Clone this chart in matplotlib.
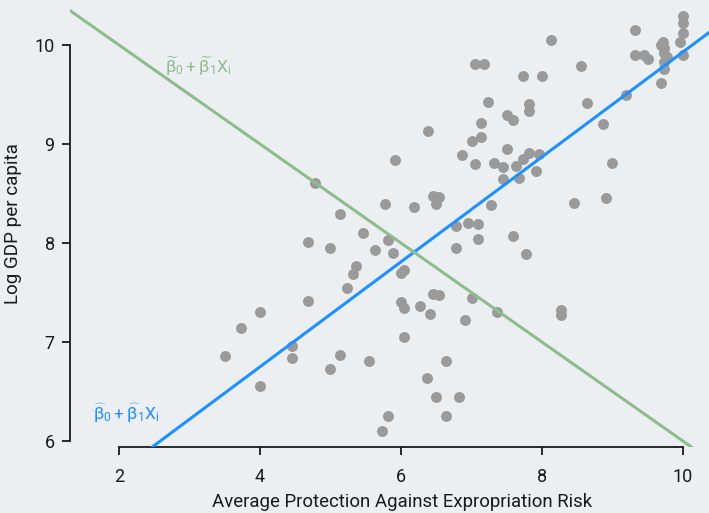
import matplotlib
matplotlib.use("Agg")
import matplotlib.pyplot as plt

# protection against expropriation risk vs log GDP per capita
avexpr = [3.50, 3.73, 4.00, 4.00, 4.45, 4.45, 4.68, 4.68, 4.78, 4.99,
          4.99, 5.13, 5.13, 5.23, 5.32, 5.36, 5.46, 5.55, 5.63, 5.77,
          5.82, 5.89, 5.91, 6.18, 6.38, 6.45, 6.54, 6.50, 6.04, 6.00,
          6.45, 6.54, 6.00, 6.04, 6.27, 6.41, 6.04, 6.64, 6.37, 6.50,
          5.82, 5.73, 6.64, 6.82, 6.91, 7.01, 7.36, 6.78, 6.95, 7.09,
          7.09, 6.78, 7.59, 7.77, 8.27, 8.27, 6.87, 7.05, 7.32, 7.45,
          7.63, 7.73, 7.82, 7.96, 7.45, 7.67, 7.91, 7.50, 7.13, 7.23,
          7.13, 7.01, 7.05, 7.18, 7.73, 8.00, 8.13, 7.82, 7.82, 7.50,
          7.59, 7.28, 8.55, 8.64, 8.87, 8.99, 8.91, 8.45, 9.19, 9.32,
          9.32, 9.45, 9.50, 9.72, 9.69, 9.73, 9.73, 9.77, 9.73, 9.73,
          9.69, 9.96, 10.00, 10.00, 10.00, 10.00]
loggdp = [6.86, 7.14, 7.30, 6.56, 6.96, 6.84, 7.41, 8.01, 8.61, 7.95,
          6.73, 8.29, 6.87, 7.55, 7.69, 7.77, 8.10, 6.81, 7.93, 8.39,
          8.03, 7.90, 8.84, 8.36, 9.13, 8.47, 8.46, 8.39, 7.73, 7.70,
          7.49, 7.48, 7.40, 7.34, 7.36, 7.28, 7.05, 6.81, 6.64, 6.45,
          6.25, 6.10, 6.25, 6.45, 7.22, 7.44, 7.30, 8.17, 8.20, 8.19,
          8.04, 7.95, 8.07, 7.89, 7.32, 7.27, 8.89, 8.80, 8.81, 8.77,
          8.78, 8.85, 8.91, 8.90, 8.65, 8.66, 8.73, 8.95, 9.21, 9.42,
          9.07, 9.03, 9.81, 9.81, 9.69, 9.69, 10.05, 9.40, 9.33, 9.29,
          9.24, 8.38, 9.79, 9.41, 9.20, 8.81, 8.45, 8.40, 9.49, 10.15,
          9.90, 9.90, 9.86, 10.03, 10.00, 9.97, 9.92, 9.88, 9.83, 9.76,
          9.62, 10.03, 10.29, 10.22, 10.12, 9.90]

# fitted line (hat) and an arbitrary line (tilde)
ols_b0, ols_b1 = 4.63, 0.53
alt_b0, alt_b1 = 11.0, -0.5

bg = "#ECEFF1"
blue = "#1E90FF"
green = "#8FBC8F"

plt.rcParams["font.family"] = ["Roboto", "DejaVu Sans"]
plt.rcParams["mathtext.fontset"] = "custom"
plt.rcParams["mathtext.rm"] = "Roboto"
plt.rcParams["mathtext.it"] = "Roboto"
plt.rcParams["mathtext.bf"] = "Roboto"

fig = plt.figure(figsize=(7.09, 5.13), dpi=100, facecolor=bg)
ax = fig.add_axes([70 / 709, 66 / 513, 639 / 709, 447 / 513])
ax.set_facecolor(bg)

ax.scatter(avexpr, loggdp, s=62, color="#9A9A9A", linewidths=0, zorder=2)
ax.axline((0, ols_b0), slope=ols_b1, color=blue, lw=2.2, zorder=3)
ax.axline((0, alt_b0), slope=alt_b1, color=green, lw=2.2, zorder=3)

ax.text(2.65, 9.78, r"$\widetilde{\beta}_0 + \widetilde{\beta}_1 X_i$",
        color=green, fontsize=12.5, va="center", ha="left")
ax.text(1.63, 6.28, r"$\widehat{\beta}_0 + \widehat{\beta}_1 X_i$",
        color=blue, fontsize=12.5, va="center", ha="left")

ax.set_xlim(1.305, 10.369)
ax.set_ylim(5.94, 10.4545)
ax.set_xticks([2, 4, 6, 8, 10])
ax.set_yticks([6, 7, 8, 9, 10])

for side in ["top", "right"]:
    ax.spines[side].set_visible(False)
ax.spines["left"].set_bounds(6, 10)
ax.spines["bottom"].set_bounds(2, 10)
for side in ["left", "bottom"]:
    ax.spines[side].set_linewidth(1.3)
    ax.spines[side].set_color("#1a1a1a")
ax.tick_params(length=6, width=1.3, colors="#1a1a1a", labelsize=13)
ax.tick_params(axis="x", pad=9)
ax.tick_params(axis="y", pad=5)

ax.set_xlabel("Average Protection Against Expropriation Risk", fontsize=13.4,
              color="#1a1a1a")
ax.xaxis.set_label_coords(0.52, -0.102)
ax.set_ylabel("Log GDP per capita", fontsize=13.6, color="#1a1a1a", labelpad=9)

fig.savefig("out.png", dpi=100, facecolor=bg)
